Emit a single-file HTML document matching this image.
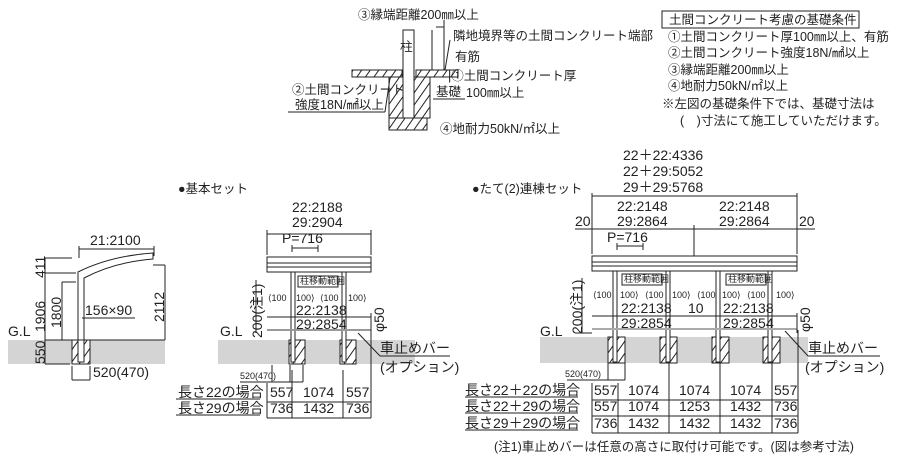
<!DOCTYPE html>
<html><head><meta charset="utf-8"><style>
body{margin:0;background:#fff}
svg{display:block}
text{font-family:"Liberation Sans","Noto Sans CJK JP",sans-serif;fill:#222}
.s{font-size:12.5px}.m{font-size:14px}.t{font-size:9px}
</style></head><body>
<svg width="900" height="458" viewBox="0 0 900 458" xmlns="http://www.w3.org/2000/svg">
<defs>
<pattern id="h" width="7" height="7" patternUnits="userSpaceOnUse" patternTransform="rotate(35)"><rect width="7" height="7" fill="#fff"/><line x1="0" y1="0" x2="0" y2="7" stroke="#222" stroke-width="2"/></pattern>
</defs>
<g stroke="#222" fill="none" stroke-width="1">
<rect x="662" y="11" width="197" height="17"/>
<rect x="352" y="70" width="50" height="7" fill="url(#h)"/>
<rect x="416" y="70" width="42" height="7" fill="url(#h)"/>
<rect x="389" y="77" width="41" height="41" fill="url(#h)"/>
<rect x="389" y="118" width="38" height="12" fill="url(#h)"/>
<rect x="403" y="30" width="11" height="88" fill="#fff"/>
<line x1="432" y1="30" x2="432" y2="70"/><line x1="444" y1="20" x2="444" y2="70"/>
<line x1="436" y1="27" x2="444" y2="27"/>
<line x1="288" y1="112" x2="385" y2="112"/><line x1="385" y1="112" x2="390" y2="78"/>
<line x1="433" y1="99" x2="465" y2="99"/>
<line x1="450" y1="40" x2="445" y2="70"/>
<rect x="8" y="340" width="157" height="24" fill="#d4d4d4" stroke="none"/>
<rect x="218" y="340" width="197" height="24" fill="#d4d4d4" stroke="none"/>
<rect x="540" y="337" width="268" height="26" fill="#d4d4d4" stroke="none"/>
<rect x="72" y="340" width="18" height="24" fill="url(#h)"/>
<rect x="78" y="272" width="6" height="90" fill="#fff"/>
<path d="M78 272 Q110 256 153 253 L153 259 Q115 262 84 278" fill="#fff"/>
<line x1="45" y1="258" x2="72" y2="258"/><line x1="45" y1="273" x2="76" y2="273"/>
<line x1="45" y1="340" x2="165" y2="340"/><line x1="45" y1="364" x2="70" y2="364"/>
<line x1="45" y1="258" x2="45" y2="364"/>
<line x1="62" y1="282" x2="62" y2="340"/><line x1="62" y1="282" x2="76" y2="282"/>
<line x1="165" y1="265" x2="165" y2="340"/><line x1="153" y1="265" x2="165" y2="265"/>
<line x1="79" y1="249" x2="154" y2="249"/><line x1="79" y1="246" x2="79" y2="258"/><line x1="154" y1="246" x2="154" y2="256"/>
<line x1="82" y1="318" x2="135" y2="318"/>
<line x1="72" y1="366" x2="72" y2="380"/><line x1="90" y1="366" x2="90" y2="380"/><line x1="72" y1="380" x2="90" y2="380"/>
<rect x="267" y="257" width="104" height="15" fill="#fff"/>
<line x1="267" y1="263" x2="371" y2="263"/><line x1="267" y1="267" x2="371" y2="267"/>
<rect x="289" y="340" width="16" height="24" fill="url(#h)"/>
<rect x="340" y="340" width="16" height="24" fill="url(#h)"/>
<rect x="291" y="272" width="4" height="90" fill="#fff"/><rect x="342" y="272" width="4" height="90" fill="#fff"/>
<line x1="267" y1="234" x2="371" y2="234"/><line x1="267" y1="230" x2="267" y2="255"/><line x1="371" y1="230" x2="371" y2="255"/>
<line x1="292" y1="248" x2="318" y2="248"/><line x1="292" y1="245" x2="292" y2="252"/><line x1="318" y1="245" x2="318" y2="252"/>
<rect x="298" y="276" width="40" height="11"/>
<line x1="267" y1="317" x2="371" y2="317"/><line x1="267" y1="330" x2="371" y2="330" stroke-width="2" stroke="#999"/>
<line x1="256" y1="280" x2="256" y2="333"/>
<line x1="371" y1="313" x2="371" y2="333"/>
<line x1="358" y1="333" x2="380" y2="356"/><line x1="380" y1="356" x2="450" y2="356"/>
<line x1="272" y1="365" x2="272" y2="382"/><line x1="290" y1="365" x2="290" y2="382"/><line x1="303" y1="365" x2="303" y2="382"/><line x1="240" y1="382" x2="303" y2="382"/>
<line x1="267" y1="383" x2="267" y2="418"/><line x1="292" y1="370" x2="292" y2="418"/><line x1="343" y1="370" x2="343" y2="418"/><line x1="371" y1="330" x2="371" y2="418"/>
<line x1="267" y1="402" x2="371" y2="402"/><line x1="267" y1="418" x2="371" y2="418"/>
<line x1="176" y1="399" x2="260" y2="399"/><line x1="176" y1="415" x2="260" y2="415"/>
<rect x="592" y="256" width="205" height="15" fill="#fff"/>
<line x1="592" y1="262" x2="797" y2="262"/><line x1="592" y1="266" x2="797" y2="266"/>
<rect x="608" y="337" width="17" height="26" fill="url(#h)"/><rect x="660" y="337" width="17" height="26" fill="url(#h)"/>
<rect x="712" y="337" width="17" height="26" fill="url(#h)"/><rect x="763" y="337" width="17" height="26" fill="url(#h)"/>
<rect x="613" y="271" width="4" height="91" fill="#fff"/><rect x="666" y="271" width="4" height="91" fill="#fff"/>
<rect x="716" y="271" width="4" height="91" fill="#fff"/><rect x="768" y="271" width="4" height="91" fill="#fff"/>
<line x1="592" y1="196" x2="797" y2="196"/><line x1="592" y1="229" x2="797" y2="229"/>
<line x1="592" y1="193" x2="592" y2="254"/><line x1="797" y1="193" x2="797" y2="254"/><line x1="694" y1="225" x2="694" y2="256"/>
<line x1="575" y1="229" x2="592" y2="229"/><line x1="797" y1="229" x2="815" y2="229"/>
<line x1="617" y1="246" x2="643" y2="246"/><line x1="617" y1="243" x2="617" y2="250"/><line x1="643" y1="243" x2="643" y2="250"/>
<rect x="622" y="274" width="40" height="11"/><rect x="726" y="274" width="40" height="11"/>
<line x1="592" y1="316" x2="797" y2="316"/><line x1="592" y1="329" x2="797" y2="329" stroke-width="2" stroke="#aaa"/>
<line x1="582" y1="278" x2="582" y2="333"/><line x1="575" y1="333" x2="592" y2="333"/>
<line x1="797" y1="313" x2="797" y2="333"/>
<line x1="785" y1="331" x2="808" y2="356"/><line x1="808" y1="356" x2="880" y2="356"/>
<line x1="608" y1="363" x2="608" y2="380"/><line x1="625" y1="363" x2="625" y2="380"/><line x1="567" y1="380" x2="625" y2="380"/>
<line x1="592" y1="383" x2="592" y2="433"/><line x1="618" y1="383" x2="618" y2="433"/><line x1="669" y1="363" x2="669" y2="433"/><line x1="720" y1="363" x2="720" y2="433"/><line x1="772" y1="363" x2="772" y2="433"/><line x1="798" y1="330" x2="798" y2="433"/>
<line x1="592" y1="400" x2="798" y2="400"/><line x1="592" y1="416" x2="798" y2="416"/><line x1="592" y1="433" x2="798" y2="433"/>
<line x1="465" y1="397" x2="578" y2="397"/><line x1="465" y1="413" x2="578" y2="413"/><line x1="465" y1="430" x2="578" y2="430"/>
</g>
<text x="669" y="24" class="s">土間コンクリート考慮の基礎条件</text>
<text x="668" y="41" class="s">①土間コンクリート厚100㎜以上、有筋</text>
<text x="668" y="57" class="s">②土間コンクリート強度18N/㎟以上</text>
<text x="668" y="74" class="s">③縁端距離200㎜以上</text>
<text x="668" y="90" class="s">④地耐力50kN/㎡以上</text>
<text x="662" y="108" class="s">※左図の基礎条件下では、基礎寸法は</text>
<text x="680" y="125" class="s">(　)寸法にて施工していただけます。</text>
<text x="358" y="19" class="s">③縁端距離200㎜以上</text>
<text x="453" y="40" class="s">隣地境界等の土間コンクリート端部</text>
<text x="400" y="51" class="s">柱</text>
<text x="455" y="61" class="s">有筋</text>
<text x="448" y="80" class="s">|①土間コンクリート厚</text>
<text x="436" y="96" class="s">基礎</text>
<text x="466" y="97" class="s">100㎜以上</text>
<text x="292" y="94" class="s">②土間コンクリート</text>
<text x="295" y="109" class="s">強度18N/㎟以上</text>
<text x="440" y="133" class="s">④地耐力50kN/㎡以上</text>
<text x="178" y="193" class="s">●基本セット</text>
<text x="90" y="245" class="m">21:2100</text>
<text x="8" y="336" class="m">G.L</text>
<text x="85" y="315" class="m">156×90</text>
<text x="93" y="377" class="m">520(470)</text>
<text transform="translate(45,278) rotate(-90)" class="m">411</text>
<text transform="translate(45,332) rotate(-90)" class="m">1906</text>
<text transform="translate(61,328) rotate(-90)" class="m">1800</text>
<text transform="translate(45,364) rotate(-90)" class="m">550</text>
<text transform="translate(164,322) rotate(-90)" class="m">2112</text>
<text x="292" y="212" class="m">22:2188</text>
<text x="292" y="227" class="m">29:2904</text>
<text x="282" y="243" class="m">P=716</text>
<text x="300" y="284" class="t">柱移動範囲</text>
<text x="268" y="301" class="t">⟨100</text><text x="296" y="301" class="t">100⟩</text>
<text x="320" y="301" class="t">⟨100</text><text x="348" y="301" class="t">100⟩</text>
<text x="296" y="315" class="m">22:2138</text>
<text x="296" y="329" class="m">29:2854</text>
<text x="220" y="336" class="m">G.L</text>
<text transform="translate(262,338) rotate(-90)" class="m">200(注1)</text>
<text transform="translate(384,332) rotate(-90)" class="m">φ50</text>
<text x="380" y="353" class="m">車止めバー</text>
<text x="380" y="372" class="m">(オプション)</text>
<text x="240" y="379" class="t">520(470)</text>
<text x="178" y="397" class="m">長さ22の場合</text>
<text x="178" y="413" class="m">長さ29の場合</text>
<text x="270" y="397" class="m">557</text><text x="303" y="397" class="m">1074</text><text x="346" y="397" class="m">557</text>
<text x="270" y="413" class="m">736</text><text x="303" y="413" class="m">1432</text><text x="346" y="413" class="m">736</text>
<text x="472" y="193" class="s">●たて(2)連棟セット</text>
<text x="623" y="160" class="m">22＋22:4336</text>
<text x="623" y="176" class="m">22＋29:5052</text>
<text x="623" y="192" class="m">29＋29:5768</text>
<text x="617" y="211" class="m">22:2148</text>
<text x="617" y="226" class="m">29:2864</text>
<text x="719" y="211" class="m">22:2148</text>
<text x="719" y="226" class="m">29:2864</text>
<text x="575" y="226" class="m">20</text><text x="799" y="226" class="m">20</text>
<text x="607" y="242" class="m">P=716</text>
<text x="624" y="282" class="t">柱移動範囲</text><text x="728" y="282" class="t">柱移動範囲</text>
<text x="593" y="298" class="t">⟨100</text><text x="620" y="298" class="t">100⟩</text><text x="645" y="298" class="t">⟨100</text>
<text x="672" y="298" class="t">100⟩</text><text x="697" y="298" class="t">⟨100</text><text x="722" y="298" class="t">100⟩</text>
<text x="747" y="298" class="t">⟨100</text><text x="776" y="298" class="t">100⟩</text>
<text x="621" y="313" class="m">22:2138</text><text x="688" y="313" class="m">10</text><text x="723" y="313" class="m">22:2138</text>
<text x="621" y="328" class="m">29:2854</text><text x="723" y="328" class="m">29:2854</text>
<text x="540" y="336" class="m">G.L</text>
<text transform="translate(582,334) rotate(-90)" class="m">200(注1)</text>
<text transform="translate(810,332) rotate(-90)" class="m">φ50</text>
<text x="808" y="353" class="m">車止めバー</text>
<text x="805" y="372" class="m">(オプション)</text>
<text x="565" y="377" class="t">520(470)</text>
<text x="465" y="395" class="m">長さ22＋22の場合</text>
<text x="465" y="411" class="m">長さ22＋29の場合</text>
<text x="465" y="428" class="m">長さ29＋29の場合</text>
<text x="594" y="395" class="m">557</text><text x="628" y="395" class="m">1074</text><text x="679" y="395" class="m">1074</text><text x="730" y="395" class="m">1074</text><text x="774" y="395" class="m">557</text>
<text x="594" y="411" class="m">557</text><text x="628" y="411" class="m">1074</text><text x="679" y="411" class="m">1253</text><text x="730" y="411" class="m">1432</text><text x="774" y="411" class="m">736</text>
<text x="594" y="428" class="m">736</text><text x="628" y="428" class="m">1432</text><text x="679" y="428" class="m">1432</text><text x="730" y="428" class="m">1432</text><text x="774" y="428" class="m">736</text>
<text x="494" y="451" class="s">(注1)車止めバーは任意の高さに取付け可能です。(図は参考寸法)</text>
</svg>
</body></html>
